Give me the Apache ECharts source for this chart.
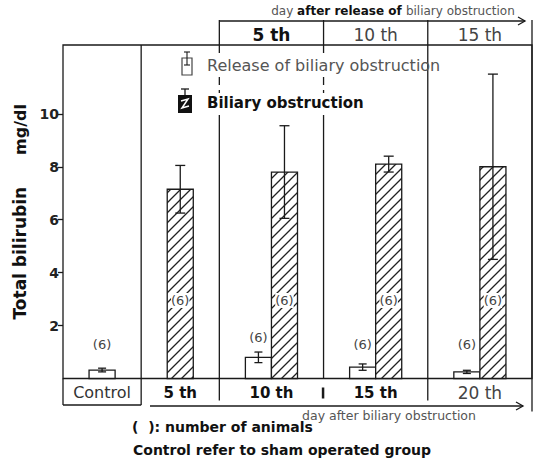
<!DOCTYPE html>
<html>
<head>
<meta charset="utf-8">
<script src="https://cdn.jsdelivr.net/npm/echarts@6/dist/echarts.min.js"></script>
<style>
  html, body { margin: 0; padding: 0; background: #fff; }
  #chart { width: 538px; height: 469px; }
</style>
</head>
<body>
<div id="chart"></div>
<script>
// ---- data -------------------------------------------------------------
const categories = ['Control', '5 th', '10 th', '15 th', '20 th'];   // day after biliary obstruction
const releaseDays = ['5 th', '10 th', '15 th'];                      // day after release (groups 3..5)
const releaseMean = [0.32, null, 0.80, 0.43, 0.25];                  // mg/dl
const releaseErr = [0.07, null, 0.20, 0.12, 0.06];
const releaseN = [6, null, 6, 6, 6];
const obstructionMean = [null, 7.15, 7.80, 8.10, 8.00];
const obstructionErr = [null, 0.90, 1.75, 0.30, 3.50];
const obstructionN = [null, 6, 6, 6, 6];
const yTicks = [2, 4, 6, 8, 10];

// ---- layout / style ---------------------------------------------------
const FONT = '"DejaVu Sans", sans-serif';
const INK = '#1a1a1a';
const Y_MAX = 12.6;
const SLOT_UNITS = [3, 3, 4, 4, 4];   // relative width of each group column
const BAR_W = 1;                      // bar width in column units

const slotStart = [];
let acc = 0;
SLOT_UNITS.forEach(u => { slotStart.push(acc); acc += u; });
const X_MAX = acc;
const centerOf = i => slotStart[i] + SLOT_UNITS[i] / 2;

function barX(i, kind) {
  const paired = releaseMean[i] != null && obstructionMean[i] != null;
  if (!paired) return centerOf(i);
  return centerOf(i) + (kind === 'release' ? -BAR_W / 2 : BAR_W / 2);
}

const releaseData = [];
const obstructionData = [];
categories.forEach((c, i) => {
  if (releaseMean[i] != null) releaseData.push([barX(i, 'release'), releaseMean[i], releaseErr[i], releaseN[i]]);
  if (obstructionMean[i] != null) obstructionData.push([barX(i, 'obstruction'), obstructionMean[i], obstructionErr[i], obstructionN[i]]);
});

// diagonal hatch tile
function hatchTile() {
  const s = 10;
  const c = document.createElement('canvas');
  c.width = s; c.height = s;
  const g = c.getContext('2d');
  g.fillStyle = '#fff';
  g.fillRect(0, 0, s, s);
  g.strokeStyle = '#222';
  g.lineWidth = 1.3;
  g.beginPath();
  g.moveTo(-1, s + 1); g.lineTo(s + 1, -1);
  g.moveTo(-1, 1); g.lineTo(1, -1);
  g.moveTo(s - 1, s + 1); g.lineTo(s + 1, s - 1);
  g.stroke();
  return c.toDataURL();
}
const hatchFill = { image: hatchTile(), repeat: 'repeat', imageWidth: 10, imageHeight: 10 };

function makeRender(kind) {
  return function (params, api) {
    const x = api.value(0), v = api.value(1), e = api.value(2), n = api.value(3);
    const tl = api.coord([x - BAR_W / 2, v]);
    const br = api.coord([x + BAR_W / 2, 0]);
    const cx = (tl[0] + br[0]) / 2;
    const yHi = api.coord([x, v + e])[1];
    const yLo = api.coord([x, v - e])[1];
    const cap = kind === 'release' ? 4 : 5;
    const ls = { stroke: INK, lineWidth: 1.3 };
    const children = [
      { type: 'rect', shape: { x: tl[0], y: tl[1], width: br[0] - tl[0], height: br[1] - tl[1] },
        style: { fill: kind === 'release' ? '#fff' : hatchFill, stroke: INK, lineWidth: 1.3 } },
      { type: 'line', shape: { x1: cx, y1: yHi, x2: cx, y2: yLo }, style: ls },
      { type: 'line', shape: { x1: cx - cap, y1: yHi, x2: cx + cap, y2: yHi }, style: ls },
      { type: 'line', shape: { x1: cx - cap, y1: yLo, x2: cx + cap, y2: yLo }, style: ls }
    ];
    const labelY = kind === 'release' ? Math.min(br[1] - 34, yHi - 15) : br[1] - 78;
    children.push({
      type: 'text',
      style: {
        x: cx, y: labelY, text: '(' + n + ')', align: 'center', verticalAlign: 'middle',
        fill: '#444', font: '13px ' + FONT,
        backgroundColor: kind === 'release' ? 'transparent' : '#fff', padding: [1, 0]
      }
    });
    return { type: 'group', children };
  };
}

const chart = echarts.init(document.getElementById('chart'), null, { renderer: 'svg' });

chart.setOption({
  animation: false,
  backgroundColor: '#fff',
  grid: { left: 63, top: 45, width: 469, height: 333.5, show: true, borderColor: INK, borderWidth: 1.3 },
  xAxis: { type: 'value', min: 0, max: X_MAX, show: false },
  yAxis: {
    type: 'value', min: 0, max: Y_MAX,
    name: '{a|Total bilirubin}{b|mg/dl}',
    nameLocation: 'middle', nameGap: 33, nameRotate: 90,
    nameTextStyle: {
      rich: {
        a: { fontFamily: FONT, fontSize: 17, fontWeight: 'bold', color: '#111' },
        b: { fontFamily: FONT, fontSize: 16, fontWeight: 'bold', color: '#111', padding: [0, 0, 0, 32] }
      }
    },
    axisLine: { show: false },
    splitLine: { show: false },
    axisTick: { show: true, customValues: yTicks, length: 5, lineStyle: { color: INK, width: 1.3 } },
    axisLabel: { customValues: yTicks, fontFamily: FONT, fontSize: 14, fontWeight: 'bold', color: '#222', margin: 4 }
  },
  series: [
    { type: 'custom', name: 'Release of biliary obstruction', renderItem: makeRender('release'), data: releaseData, z: 3 },
    { type: 'custom', name: 'Biliary obstruction', renderItem: makeRender('obstruction'), data: obstructionData, z: 3 }
  ]
});

// ---- frame extensions, header, footer, legend ------------------------
const toPx = (x, y) => chart.convertToPixel({ gridIndex: 0 }, [x, y]);
const baseY = toPx(0, 0)[1];
const topY = toPx(0, Y_MAX)[1];
const bx = slotStart.concat([X_MAX]).map(u => toPx(u, 0)[0]);
const HEAD_TOP = 20;
const ROW_BOTTOM = baseY + 26.5;

const seg = (x1, y1, x2, y2, w) => ({
  type: 'line', silent: true, z: 10,
  shape: { x1, y1, x2, y2 }, style: { stroke: INK, lineWidth: w || 1.3 }
});
const txt = (x, y, text, font, fill, align) => ({
  type: 'text', silent: true, z: 10,
  style: { x, y, text, font, fill, align: align || 'center', verticalAlign: 'middle' }
});

const g = [];
// control box and column dividers
g.push(seg(bx[0], baseY, bx[0], ROW_BOTTOM));
g.push(seg(bx[0], ROW_BOTTOM, bx[1], ROW_BOTTOM));
g.push(seg(bx[1], topY, bx[1], ROW_BOTTOM));
[bx[2], bx[3]].forEach(x => {
  [[HEAD_TOP, 53], [77, 85], [90, 93], [115, baseY]].forEach(p => g.push(seg(x, p[0], x, p[1])));
});
g.push(seg(bx[2], baseY, bx[2], baseY + 22));
g.push(seg(bx[3] - 0.5, baseY + 9, bx[3] - 0.5, baseY + 20, 2.5));
g.push(seg(bx[4], HEAD_TOP, bx[4], baseY + 22));
g.push(seg(bx[5], HEAD_TOP, bx[5], baseY + 33));

// header: day after release
const arrowY = 21;
g.push(seg(bx[2], arrowY, 525, arrowY));
g.push({ type: 'polyline', silent: true, z: 10, shape: { points: [[518, arrowY - 4], [525, arrowY], [518, arrowY + 4]] },
  style: { stroke: INK, lineWidth: 1.3, fill: 'none' } });
g.push({
  type: 'text', silent: true, z: 10,
  style: {
    x: 393, y: 10.5, align: 'center', verticalAlign: 'middle',
    text: '{l|day }{b|after release of }{l|biliary obstruction}',
    rich: {
      l: { font: '12px ' + FONT, fill: '#555' },
      b: { font: 'bold 12px ' + FONT, fill: '#111' }
    }
  }
});
releaseDays.forEach((d, k) => {
  const col = k + 2;
  const cx = (bx[col] + bx[col + 1]) / 2;
  g.push(txt(cx, 35, d, (k === 0 ? 'bold ' : '') + '17px ' + FONT, k === 0 ? '#111' : '#444'));
});

// category row
categories.forEach((c, i) => {
  const cx = (bx[i] + bx[i + 1]) / 2;
  let font = 'bold 15px ' + FONT, fill = '#111';
  if (i === 0) { font = '16px ' + FONT; fill = '#333'; }
  if (i === 4) { font = '17px ' + FONT; fill = '#444'; }
  g.push(txt(cx, baseY + 14, c, font, fill));
});

// footer arrow: day after biliary obstruction
const fArrowY = 406;
g.push(seg(150, fArrowY, 523, fArrowY));
g.push({ type: 'polyline', silent: true, z: 10, shape: { points: [[516, fArrowY - 4], [523, fArrowY], [516, fArrowY + 4]] },
  style: { stroke: INK, lineWidth: 1.3, fill: 'none' } });
g.push(txt(389, 415, 'day after biliary obstruction', '12.5px ' + FONT, '#555'));

// notes
g.push(txt(132, 427, '(  ): number of animals', 'bold 14px ' + FONT, '#111', 'left'));
g.push(txt(133, 450, 'Control refer to sham operated group', 'bold 14px ' + FONT, '#111', 'left'));

// legend
g.push({ type: 'rect', silent: true, z: 10, shape: { x: 182, y: 58, width: 10, height: 17 }, style: { fill: '#fff', stroke: '#444', lineWidth: 1.2 } });
g.push(seg(187, 52, 187, 65, 1.1));
g.push(seg(184, 52, 190, 52, 1.1));
g.push(seg(184, 65, 190, 65, 1.1));
g.push(txt(207, 65, 'Release of biliary obstruction', '16px ' + FONT, '#555', 'left'));

g.push({ type: 'rect', silent: true, z: 10, shape: { x: 178, y: 95, width: 14, height: 18 }, style: { fill: '#111' } });
g.push(seg(185, 89, 185, 95, 1.3));
g.push(seg(181, 89, 189, 89, 1.3));
g.push({ type: 'polyline', silent: true, z: 11, shape: { points: [[181, 101], [188, 99], [182, 108], [189, 106]] },
  style: { stroke: '#fff', lineWidth: 1.5, fill: 'none' } });
g.push(txt(207, 103, 'Biliary obstruction', 'bold 15px ' + FONT, '#111', 'left'));

chart.setOption({ graphic: g });
</script>
</body>
</html>
